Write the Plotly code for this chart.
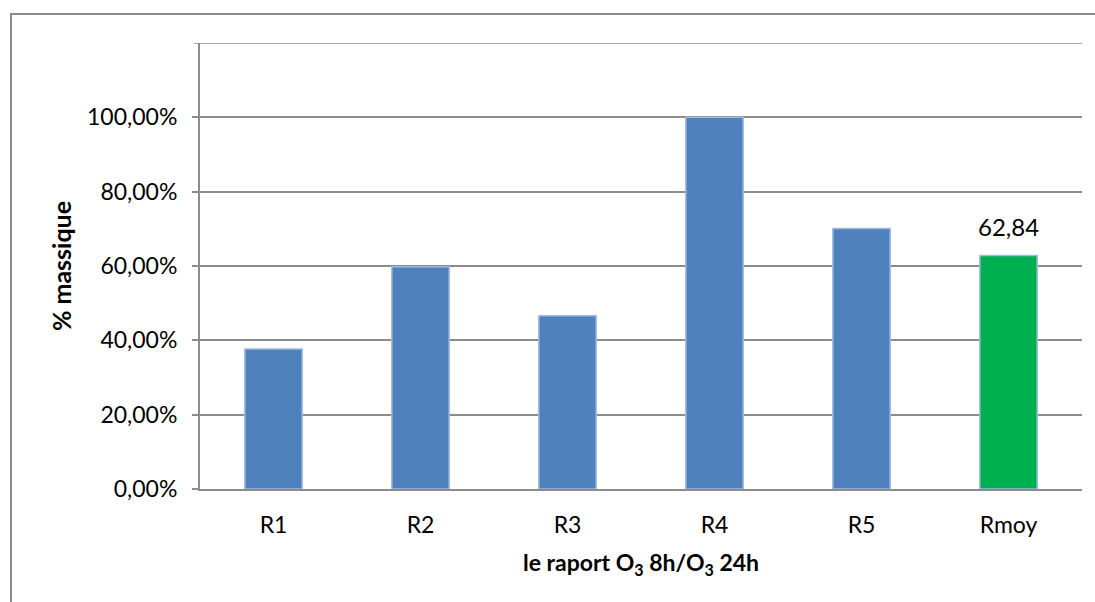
import plotly.graph_objects as go

# Mass ratio O3 8h / O3 24h per sample, plus the average
categories = ["R1", "R2", "R3", "R4", "R5", "Rmoy"]
ratios = [0.3765, 0.598, 0.466, 1.0, 0.701, 0.6284]
bar_colors = ["#4F81BD"] * 5 + ["#00B050"]
tick_vals = [0, 0.2, 0.4, 0.6, 0.8, 1.0]
tick_text = ["0,00%", "20,00%", "40,00%", "60,00%", "80,00%", "100,00%"]
y_max = 1.2

FONT = "Lato, 'Open Sans', sans-serif"
GRID = "#8C8C8C"

fig = go.Figure()
fig.add_trace(go.Bar(
    x=categories,
    y=ratios,
    marker=dict(color=bar_colors, line=dict(color="#9DBBE0", width=1.5)),
    width=0.39,
    hoverinfo="x+y",
))

# value label on the average bar
mean_val = ratios[-1]
fig.add_annotation(
    x=categories[-1], y=mean_val,
    text=f"{mean_val * 100:.2f}".replace(".", ","),
    showarrow=False, yanchor="bottom", yshift=12,
    font=dict(family=FONT, size=24, color="#000000"),
)

# top gridline (with its tick) at the upper edge of the value range
fig.add_shape(type="line", xref="paper", yref="y",
              x0=-0.007, x1=1, y0=y_max, y1=y_max,
              line=dict(color=GRID, width=1.5))

# outer chart frame
fig.add_shape(type="rect", xref="paper", yref="paper",
              x0=-0.2143, x1=1.02, y0=-0.27, y1=1.065,
              line=dict(color="#8C8C8C", width=2), fillcolor="rgba(0,0,0,0)",
              layer="below")

fig.update_layout(
    width=1095, height=602,
    margin=dict(l=200, r=13, t=43, b=113),
    paper_bgcolor="white", plot_bgcolor="white",
    separators=", ",
    showlegend=False,
    font=dict(family=FONT, size=23, color="#000000"),
    xaxis=dict(
        showline=True, linecolor=GRID, linewidth=2,
        ticks="", showgrid=False,
        tickfont=dict(size=23),
        ticklabelstandoff=14,
        title=dict(text="<b>le raport O<sub>3</sub> 8h/O<sub>3</sub> 24h</b>",
                   font=dict(size=23), standoff=18),
    ),
    yaxis=dict(
        range=[0, y_max],
        tickvals=tick_vals, ticktext=tick_text,
        showgrid=True, gridcolor=GRID, gridwidth=1.5,
        showline=True, linecolor=GRID, linewidth=2,
        ticks="outside", ticklen=6, tickcolor=GRID, tickwidth=1.5,
        tickfont=dict(size=23),
        ticklabelstandoff=10,
        zeroline=False,
        title=dict(text="<b>% massique</b>", font=dict(size=25), standoff=8),
    ),
)

fig.write_html("out.html")
